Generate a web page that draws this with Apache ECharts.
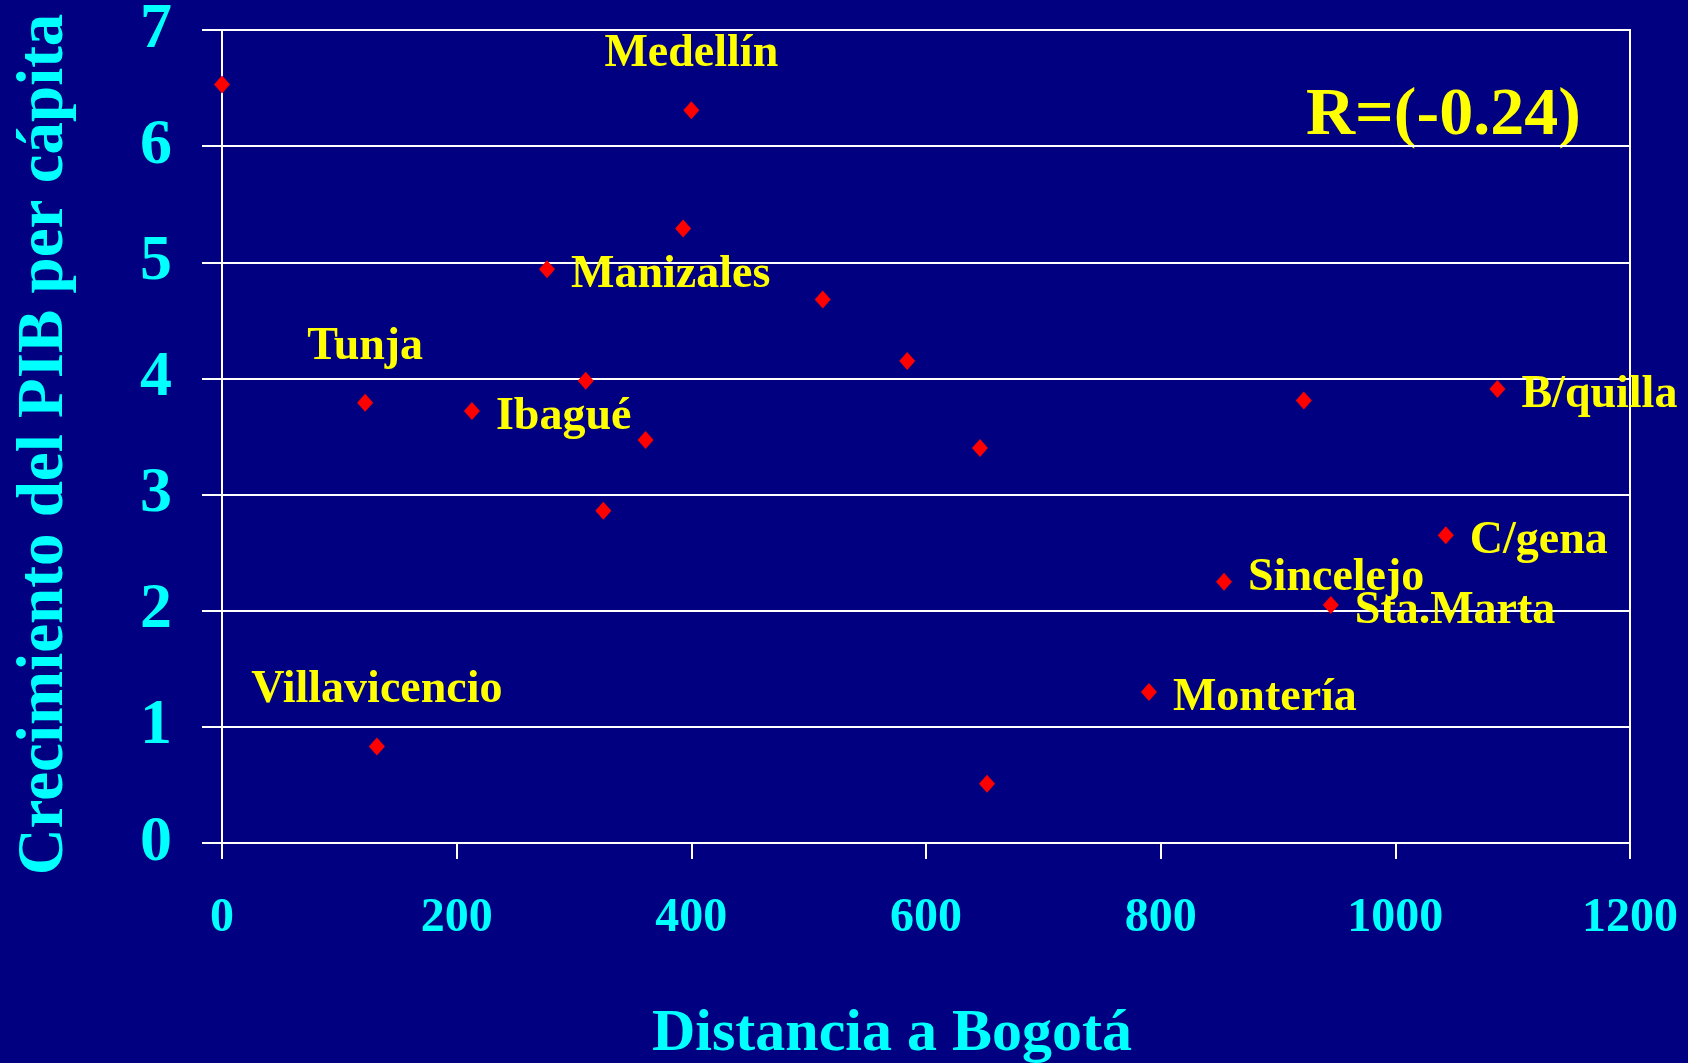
<!DOCTYPE html>
<html><head><meta charset="utf-8">
<script src="https://cdn.jsdelivr.net/npm/echarts@6/dist/echarts.min.js"></script>
<style>html,body{margin:0;padding:0;background:#000080;}#c{width:1688px;height:1063px;}</style>
</head><body><div id="c"></div>
<script>
// Data
const distances = [0, 400, 393, 277, 512, 584, 310, 122, 213, 361, 646, 325, 922, 1087, 1043, 854, 945, 790, 132, 652];
const growth    = [6.53, 6.31, 5.29, 4.94, 4.68, 4.15, 3.98, 3.79, 3.72, 3.47, 3.40, 2.86, 3.81, 3.91, 2.65, 2.25, 2.05, 1.30, 0.83, 0.51];
const cities    = ['', 'Medellín', '', 'Manizales', '', '', '', 'Tunja', 'Ibagué', '', '', '', '', 'B/quilla', 'C/gena', 'Sincelejo', 'Sta.Marta', 'Montería', 'Villavicencio', ''];
const xTicks = [0, 200, 400, 600, 800, 1000, 1200];
const yTicks = [0, 1, 2, 3, 4, 5, 6, 7];
const xTitle = 'Distancia a Bogotá';
const yTitle = 'Crecimiento del PIB per cápita';
const rText = 'R=(-0.24)';

const SERIF = "'Times New Roman', 'Liberation Serif', serif";
const CYAN = '#00FFFF', YELLOW = '#FFFF00', NAVY = '#000080';
const topLabelCities = ['Medellín', 'Tunja', 'Villavicencio'];
const raisedLabelCities = ['Sincelejo'];

const points = distances.map((d, i) => {
  const name = cities[i];
  const item = { value: [d, growth[i]], name: name };
  if (!name) {
    item.label = { show: false };
  } else if (topLabelCities.includes(name)) {
    item.label = { show: true, position: 'top', distance: 24 };
  } else {
    item.label = { show: true, position: 'right', distance: 16 };
  }
  return item;
});

const chart = echarts.init(document.getElementById('c'));
chart.setOption({
  backgroundColor: NAVY,
  animation: false,
  grid: { left: 222, right: 58, top: 30, bottom: 220, show: true, borderColor: '#FFFFFF', borderWidth: 2,
    backgroundColor: 'transparent', containLabel: false, outerBoundsMode: 'none' },
  xAxis: {
    type: 'value', min: xTicks[0], max: xTicks[xTicks.length - 1], interval: xTicks[1] - xTicks[0],
    name: xTitle, nameLocation: 'middle', nameGap: 161,
    nameTextStyle: { color: CYAN, fontFamily: SERIF, fontWeight: 'bold', fontSize: 60, padding: [0, 68, 0, 0] },
    axisLine: { show: true, lineStyle: { color: '#FFFFFF', width: 2 } },
    axisTick: { show: true, inside: false, length: 16, lineStyle: { color: '#FFFFFF', width: 2 } },
    axisLabel: { color: CYAN, fontFamily: SERIF, fontWeight: 'bold', fontSize: 48, margin: 52,
      formatter: v => String(v) },
    splitLine: { show: false }
  },
  yAxis: {
    type: 'value', min: yTicks[0], max: yTicks[yTicks.length - 1], interval: yTicks[1] - yTicks[0],
    name: yTitle, nameLocation: 'middle', nameGap: 144,
    nameTextStyle: { color: CYAN, fontFamily: SERIF, fontWeight: 'bold', fontSize: 65, padding: [0, 16, 0, 0] },
    axisLine: { show: true, lineStyle: { color: '#FFFFFF', width: 2 } },
    axisTick: { show: true, inside: false, length: 20, lineStyle: { color: '#FFFFFF', width: 2 } },
    axisLabel: { color: CYAN, fontFamily: SERIF, fontWeight: 'bold', fontSize: 64, margin: 50,
      formatter: v => String(v) },
    splitLine: { show: true, lineStyle: { color: '#FFFFFF', width: 2 } }
  },
  series: [{
    type: 'scatter',
    symbol: 'diamond',
    symbolSize: [16, 18],
    itemStyle: { color: '#FF0000', opacity: 1 },
    label: {
      formatter: '{b}', color: YELLOW, opacity: 1, fontFamily: SERIF, fontWeight: 'bold', fontSize: 46
    },
    labelLayout: function (params) {
      const name = cities[params.dataIndex];
      if (topLabelCities.includes(name)) return { hideOverlap: false };
      return { hideOverlap: false, dy: raisedLabelCities.includes(name) ? -4 : 6 };
    },
    data: points
  }],
  graphic: [{
    type: 'text', left: 1306, top: 82,
    style: { text: rText, fill: YELLOW, font: "bold 68px " + SERIF }
  }]
});
</script></body></html>
